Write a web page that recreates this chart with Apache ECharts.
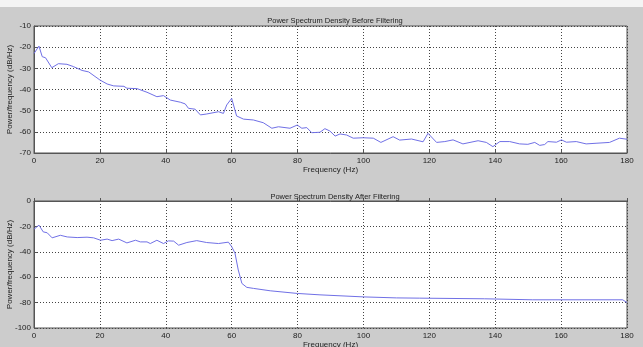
<!DOCTYPE html>
<html>
<head>
<meta charset="utf-8">
<script src="https://cdn.jsdelivr.net/npm/echarts@6/dist/echarts.min.js"></script>
<style>
  html, body { margin: 0; padding: 0; background: #cccccc; }
  #strip { height: 7px; background: #f4f4f4; }
  #chart { width: 643px; height: 340px; }
</style>
</head>
<body>
<div id="strip"></div>
<div id="chart"></div>
<script>
// PSD before filtering (Hz, dB/Hz)
var beforeFreq = [0, 1.5, 2.5, 3.5, 5.4, 7.4, 10, 12, 14.6, 16.6, 20, 22.2, 24.2, 27.3, 28.2, 31.3, 34.3, 37.3, 39.3, 41.4,
  44.4, 45.9, 46.9, 48.9, 50.5, 52.3, 56, 57.5, 58.5, 60, 60.5, 61.5, 63.6, 66.6, 69.6, 72.2, 74.2, 77.7, 79.9, 81.3,
  82.8, 84.3, 86.8, 88.3, 89.8, 91.4, 92.9, 94.9, 96.9, 99.9, 103, 105.3, 109, 111, 114.6, 118.1, 119.6, 120.2, 122.2, 124.7,
  127.2, 130.2, 134.8, 137.3, 139.3, 141.4, 144.4, 147.4, 149.9, 152, 153.5, 155, 156, 158.6, 160.1, 161.6, 164.6, 167.6, 170.6, 174.7,
  177.7, 180];
var beforePower = [-23, -19.5, -24.5, -25, -29.7, -27.8, -28.1, -29.2, -31, -31.7, -35.5, -37.4, -38.3, -38.5, -39.4, -39.6, -41.3, -43.4, -42.9, -45,
  -46, -46.8, -48.9, -49.3, -52, -51.6, -50.5, -51.3, -47.3, -44.2, -45, -52.5, -54, -54.4, -55.7, -58.3, -57.6, -58.3, -56.8, -58.3,
  -58, -60.4, -60.2, -58.5, -59.6, -62, -61, -61.5, -63, -62.8, -63, -65, -62.3, -63.9, -63.4, -64.7, -60.7, -61.5, -65, -64.6,
  -63.8, -65.7, -64.2, -65, -67, -64.6, -64.6, -65.7, -65.9, -65, -66.4, -66, -64.6, -64.9, -63.8, -64.9, -64.6, -65.7, -65.4, -65,
  -63, -63.5];

// PSD after filtering (Hz, dB/Hz)
var afterFreq = [0, 1.5, 2.8, 4, 5.5, 8, 10.1, 13.1, 16.1, 18.1, 20.2, 22.2, 23.7, 25.7, 28.2, 30.8, 32.3, 34.3, 35.3, 37.3,
  39.3, 40.8, 42.4, 43.9, 46.4, 49.4, 52.4, 56, 59, 60, 61, 62, 63.1, 64.6, 66.6, 71.7, 80, 86.8, 99.9, 110,
  117.1, 136.8, 151.4, 178.7, 180];
var afterPower = [-22.2, -19, -24.3, -25, -29, -27, -28.3, -28.8, -28.5, -29, -30.9, -30, -31.2, -30, -33, -30.9, -32.2, -32.2, -33.5, -30.9,
  -33.5, -31.4, -31.6, -34.8, -32.7, -31.2, -32.7, -33.5, -32.4, -35.9, -41, -54.3, -64.9, -68, -68.8, -70.7, -72.8, -73.9, -75.5, -76.3,
  -76.5, -77, -77.8, -77.8, -80];

var freqTicks = { min: 0, max: 180, step: 20 };
var beforeTicks = { min: -70, max: -10, step: 10 };
var afterTicks = { min: -100, max: 0, step: 20 };

function pairs(xs, ys) {
  return xs.map(function (x, i) { return [x, ys[i]]; });
}

var font = "Liberation Sans";
var lineColor = "#7070e6";

function xAxis(idx) {
  return {
    type: "value",
    gridIndex: idx,
    min: freqTicks.min,
    max: freqTicks.max,
    interval: freqTicks.step,
    name: "Frequency (Hz)",
    nameLocation: "middle",
    nameGap: 13,
    nameMoveOverlap: false,
    nameTextStyle: { fontFamily: font, fontSize: 8, color: "#222" },
    axisLine: { show: true, lineStyle: { color: "#555", width: 1 } },
    axisTick: { show: true, inside: true, length: 3, lineStyle: { color: "#555" } },
    axisLabel: { fontFamily: font, fontSize: 8, color: "#222", margin: 4 },
    splitLine: { show: true, lineStyle: { color: "#444", type: [1, 2], width: 1 } }
  };
}

function yAxis(idx, t) {
  return {
    type: "value",
    gridIndex: idx,
    min: t.min,
    max: t.max,
    interval: t.step,
    name: "Power/frequency (dB/Hz)",
    nameLocation: "middle",
    nameRotate: 90,
    nameGap: 20,
    nameMoveOverlap: false,
    nameTextStyle: { fontFamily: font, fontSize: 8, color: "#222" },
    axisLine: { show: true, lineStyle: { color: "#555", width: 1 } },
    axisTick: { show: true, inside: true, length: 3, lineStyle: { color: "#555" } },
    axisLabel: { fontFamily: font, fontSize: 8, color: "#222", margin: 3 },
    splitLine: { show: true, lineStyle: { color: "#444", type: [1, 2], width: 1 } }
  };
}

var chart = echarts.init(document.getElementById("chart"), null, { renderer: "canvas" });
chart.setOption({
  animation: false,
  backgroundColor: "#cccccc",
  title: [
    {
      text: "Power Spectrum Density Before Filtering",
      left: 330, top: 5, textAlign: "center",
      textStyle: { fontFamily: font, fontSize: 7.5, fontWeight: "normal", color: "#222" }
    },
    {
      text: "Power Spectrum Density After Filtering",
      left: 330, top: 181, textAlign: "center",
      textStyle: { fontFamily: font, fontSize: 7.5, fontWeight: "normal", color: "#222" }
    }
  ],
  grid: [
    { left: 34, top: 19, width: 593, height: 127, outerBoundsMode: "none", containLabel: false,
      show: true, backgroundColor: "#fff", borderColor: "#555", borderWidth: 1 },
    { left: 34, top: 194, width: 593, height: 127, outerBoundsMode: "none", containLabel: false,
      show: true, backgroundColor: "#fff", borderColor: "#555", borderWidth: 1 }
  ],
  xAxis: [xAxis(0), xAxis(1)],
  yAxis: [yAxis(0, beforeTicks), yAxis(1, afterTicks)],
  series: [
    {
      type: "line",
      xAxisIndex: 0, yAxisIndex: 0,
      symbol: "none",
      lineStyle: { color: lineColor, width: 1 },
      data: pairs(beforeFreq, beforePower)
    },
    {
      type: "line",
      xAxisIndex: 1, yAxisIndex: 1,
      symbol: "none",
      lineStyle: { color: lineColor, width: 1 },
      data: pairs(afterFreq, afterPower)
    }
  ]
});
</script>
</body>
</html>
